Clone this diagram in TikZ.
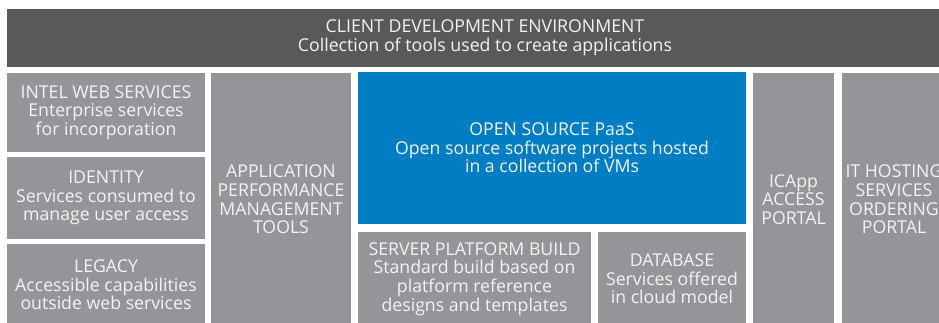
\documentclass[tikz,border=0pt]{standalone}
\usepackage{fontspec}
\setmainfont{Open Sans}

\definecolor{darkbar}{RGB}{88,89,91}
\definecolor{boxgray}{RGB}{147,149,152}
\definecolor{paasblue}{RGB}{0,125,195}
\definecolor{labeltext}{RGB}{243,243,243}

\begin{document}
\begin{tikzpicture}[x=1pt, y=-1pt,
    block/.style={fill=boxgray, text=labeltext, align=center, inner sep=0pt,
        font=\fontsize{17.7}{18.6}\selectfont}]

    \useasboundingbox (0,0) rectangle (939,322);
    \clip (0,0) rectangle (939,322);

    % Top bar
    \node[block, fill=darkbar, minimum width=956pt, minimum height=58pt] (client) at (485,38)
        {CLIENT DEVELOPMENT ENVIRONMENT\\Collection of tools used to create applications};

    % Left column
    \node[block, minimum width=198pt, minimum height=79pt] (intel) at (106,112.5)
        {INTEL WEB SERVICES\\Enterprise services\\for incorporation};
    \node[block, minimum width=198pt, minimum height=82pt] (identity) at (106,198)
        {IDENTITY\\Services consumed to\\manage user access};
    \node[block, minimum width=198pt, minimum height=82pt] (legacy) at (106,285)
        {LEGACY\\Accessible capabilities\\outside web services};

    % Tall columns
    \node[block, minimum width=140pt, minimum height=253pt] (apm) at (281,199.5)
        {APPLICATION\\PERFORMANCE\\MANAGEMENT\\TOOLS};
    \node[block, minimum width=81pt, minimum height=253pt] (icapp) at (793.5,199.5)
        {ICApp\\ACCESS\\PORTAL};
    \node[block, minimum width=104pt, minimum height=253pt] (hosting) at (894,199.5)
        {IT HOSTING\\SERVICES\\ORDERING\\PORTAL};

    % PaaS and below
    \node[block, fill=paasblue, minimum width=388pt, minimum height=152pt] (paas) at (552,148)
        {OPEN SOURCE PaaS\\Open source software projects hosted\\in a collection of VMs};
    \node[block, minimum width=233pt, minimum height=94pt] (server) at (474.5,279)
        {SERVER PLATFORM BUILD\\Standard build based on\\platform reference\\designs and templates};
    \node[block, minimum width=148pt, minimum height=94pt] (database) at (672,279)
        {DATABASE\\Services offered\\in cloud model};

\end{tikzpicture}
\end{document}
